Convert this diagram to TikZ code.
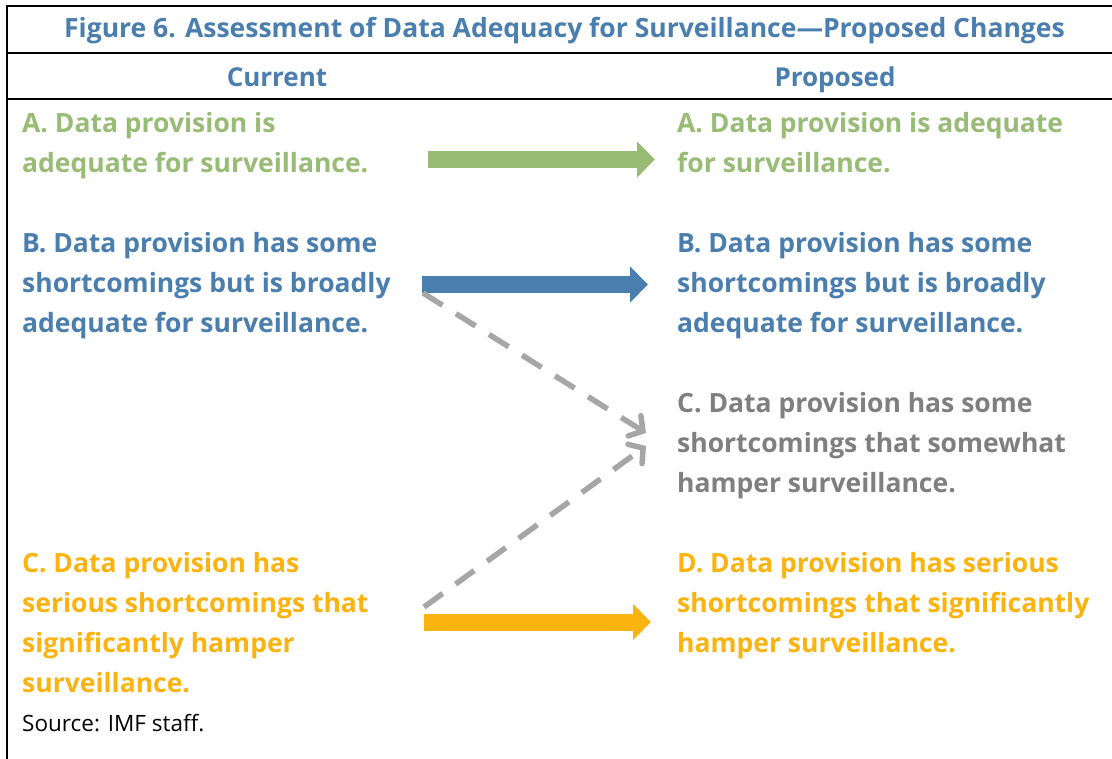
\documentclass[tikz,border=0pt]{standalone}
\usepackage{fontspec}
\setmainfont{Open Sans}
\usetikzlibrary{arrows.meta}
\definecolor{cgreen}{HTML}{98BC75}
\definecolor{cblue}{HTML}{4A7EAE}
\definecolor{cgraytxt}{HTML}{7F7F7F}
\definecolor{cgrayarr}{HTML}{A6A6A6}
\definecolor{cyellow}{HTML}{FAB30F}
\tikzset{
  frame/.style={line width=2pt, black},
  titletxt/.style={font=\bfseries\fontsize{26.5}{30}\selectfont, text=cblue, inner sep=0, anchor=base},
  headtxt/.style={font=\bfseries\fontsize{26}{30}\selectfont, text=cblue, inner sep=0, anchor=base},
  body/.style={font=\bfseries\fontsize{26.5}{40}\selectfont, align=left, anchor=north west, inner sep=0},
  fatarrow/.style={line width=17pt, -{Triangle[length=18pt,width=35pt]}},
  dasharrow/.style={line width=5.5pt, cgrayarr, dash pattern=on 23pt off 16pt,
    -{Straight Barb[length=10pt,width=24pt,line cap=round]}},
}
\newcommand{\fl}{\rule{0pt}{21pt}}
\begin{document}
\begin{tikzpicture}[x=1pt,y=-1pt]
\useasboundingbox (0,0) rectangle (1112,759);
\fill[white] (0,0) rectangle (1112,759);
% frame
\draw[frame] (7,759) -- (7,6) -- (1112,6);
\draw[frame] (7,53) -- (1112,53);
\draw[frame] (7,99) -- (1112,99);
% headings
\node[titletxt] (title) at (564.5,38) {Figure 6. Assessment of Data Adequacy for Surveillance—Proposed Changes};
\node[headtxt] (cur) at (277,87) {Current};
\node[headtxt] (prop) at (835,87) {Proposed};
% left column
\node[body, text=cgreen] (LA) at (22,111) {\fl A. Data provision is\\adequate for surveillance.};
\node[body, text=cblue] (LB) at (22,231) {\fl B. Data provision has some\\shortcomings but is broadly\\adequate for surveillance.};
\node[body, text=cyellow] (LC) at (22,551) {\fl C. Data provision has\\serious shortcomings that\\significantly hamper\\surveillance.};
% right column
\node[body, text=cgreen] (RA) at (677,111) {\fl A. Data provision is adequate\\for surveillance.};
\node[body, text=cblue] (RB) at (677,231) {\fl B. Data provision has some\\shortcomings but is broadly\\adequate for surveillance.};
\node[body, text=cgraytxt] (RC) at (677,391) {\fl C. Data provision has some\\shortcomings that somewhat\\hamper surveillance.};
\node[body, text=cyellow] (RD) at (677,551) {\fl D. Data provision has serious\\shortcomings that significantly\\hamper surveillance.};
% source
\node[font=\fontsize{22.5}{26}\selectfont, anchor=base west, inner sep=0] (src) at (22,731) {Source: IMF staff.};
% arrow end points
\coordinate (gS) at (428,159.5);
\coordinate (gE) at (655,159.5);
\coordinate (bS) at (422,284.5);
\coordinate (bE) at (648,284.5);
\coordinate (yS) at (424,622);
\coordinate (yE) at (651,622);
\coordinate (d1S) at (423,293);
\coordinate (d1E) at (646,433);
\coordinate (d2S) at (424,607);
\coordinate (d2E) at (646,446);
\draw[fatarrow, cgreen] (gS) -- (gE);
\draw[fatarrow, cblue] (bS) -- (bE);
\draw[fatarrow, cyellow] (yS) -- (yE);
\draw[dasharrow] (d1S) -- (d1E);
\draw[dasharrow] (d2S) -- (d2E);
\end{tikzpicture}
\end{document}
